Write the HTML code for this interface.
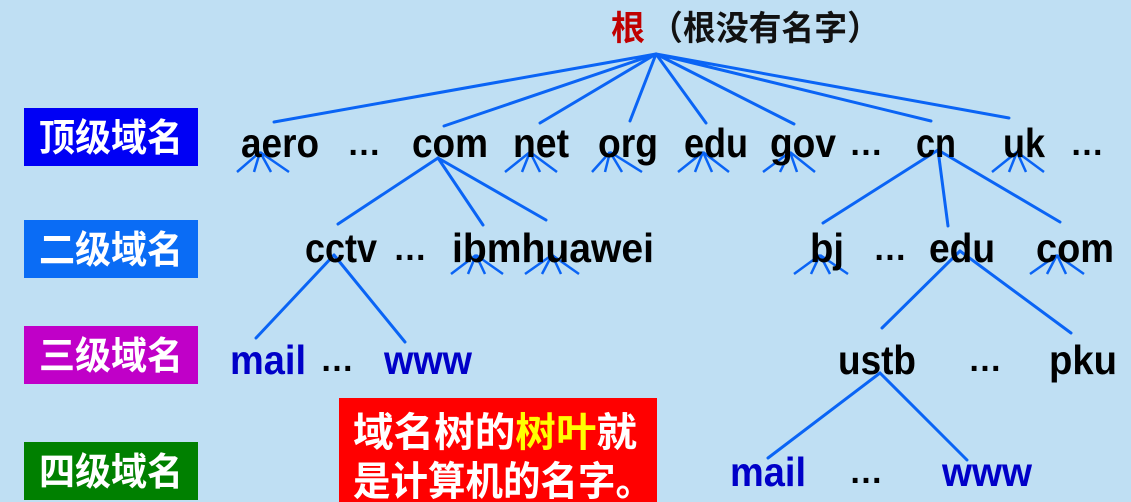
<!DOCTYPE html>
<html><head><meta charset="utf-8"><style>
html,body{margin:0;padding:0;background:#bfdff3;}
svg{display:block}
</style></head><body>
<svg width="1131" height="502" viewBox="0 0 1131 502" xmlns="http://www.w3.org/2000/svg">
<rect width="1131" height="502" fill="#bfdff3"/>
<g stroke="#0a64f5" stroke-width="3" fill="none" stroke-linecap="round">
<path d="M656 54L274 122M656 54L444 126M656 54L540 123M656 54L630 121M656 54L706 123M656 54L794 124M656 54L931 121M656 54L1009 118"/>
<path d="M438 158L338 224M438 158L483 225M438 158L546 220"/>
<path d="M938 150L823 223M938 150L948 226M938 150L1060 222"/>
<path d="M334 255L256 338M334 255L405 342"/>
<path d="M960 251L882 328M960 251L1071 333"/>
<path d="M880 373L768 458M880 373L967 460"/>
</g>
<g stroke="#0a64f5" stroke-width="2.5" fill="none">
<path d="M260 152L237 172M260 152L254 172M260 152L271 172M260 152L289 172"/>
<path d="M530 152L505 172M530 152L522 172M530 152L540 172M530 152L557 172"/>
<path d="M610 152L592 172M610 152L605 172M610 152L622 172M610 152L642 172"/>
<path d="M703 152L678 172M703 152L695 172M703 152L712 172M703 152L729 172"/>
<path d="M790 152L763 172M790 152L780 172M790 152L797 172M790 152L815 172"/>
<path d="M1017 152L992 172M1017 152L1009 172M1017 152L1026 172M1017 152L1044 172"/>
<path d="M476 255L451 274M476 255L468 274M476 255L485 274M476 255L503 274"/>
<path d="M552 255L525 274M552 255L542 274M552 255L561 274M552 255L579 274"/>
<path d="M820 255L794 274M820 255L811 274M820 255L830 274M820 255L848 274"/>
<path d="M1057 255L1030 274M1057 255L1047 274M1057 255L1066 274M1057 255L1084 274"/>
</g>
<g font-family="Liberation Sans, Noto Sans CJK SC, sans-serif" font-weight="bold" font-size="41" text-anchor="middle" fill="#000">
<text x="280" y="157" textLength="78" lengthAdjust="spacingAndGlyphs">aero</text>
<text x="364" y="155" font-size="34">…</text>
<text x="450" y="157" textLength="76" lengthAdjust="spacingAndGlyphs">com</text>
<text x="541" y="157" textLength="56" lengthAdjust="spacingAndGlyphs">net</text>
<text x="628" y="157" textLength="60" lengthAdjust="spacingAndGlyphs">org</text>
<text x="716" y="157" textLength="64" lengthAdjust="spacingAndGlyphs">edu</text>
<text x="803" y="157" textLength="66" lengthAdjust="spacingAndGlyphs">gov</text>
<text x="866" y="155" font-size="34">…</text>
<text x="936" y="157" textLength="40" lengthAdjust="spacingAndGlyphs">cn</text>
<text x="1024" y="157" textLength="42" lengthAdjust="spacingAndGlyphs">uk</text>
<text x="1087" y="155" font-size="34">…</text>

<text x="341" y="262" textLength="72" lengthAdjust="spacingAndGlyphs">cctv</text>
<text x="410" y="260" font-size="34">…</text>
<text x="553" y="262" textLength="202" lengthAdjust="spacingAndGlyphs">ibmhuawei</text>
<text x="827" y="262" textLength="34" lengthAdjust="spacingAndGlyphs">bj</text>
<text x="890" y="260" font-size="34">…</text>
<text x="962" y="262" textLength="66" lengthAdjust="spacingAndGlyphs">edu</text>
<text x="1075" y="262" textLength="78" lengthAdjust="spacingAndGlyphs">com</text>

<text x="268" y="374" fill="#0000c8" textLength="76" lengthAdjust="spacingAndGlyphs">mail</text>
<text x="337" y="371" font-size="34">…</text>
<text x="428" y="374" fill="#0000c8" textLength="88" lengthAdjust="spacingAndGlyphs">www</text>
<text x="877" y="374" textLength="78" lengthAdjust="spacingAndGlyphs">ustb</text>
<text x="985" y="371" font-size="34">…</text>
<text x="1083" y="374" textLength="68" lengthAdjust="spacingAndGlyphs">pku</text>

<text x="768" y="486" fill="#0000c8" textLength="76" lengthAdjust="spacingAndGlyphs">mail</text>
<text x="866" y="483" font-size="34">…</text>
<text x="987" y="486" fill="#0000c8" textLength="90" lengthAdjust="spacingAndGlyphs">www</text>
</g>
<g font-family="Liberation Sans, Noto Sans CJK SC, sans-serif" font-weight="bold" font-size="34">
<text x="611" y="40" fill="#c00000">根</text>
<text x="650" y="40" fill="#111" textLength="230" lengthAdjust="spacingAndGlyphs">（根没有名字）</text>
</g>
<rect x="24" y="108" width="174" height="58" fill="#0000f5"/>
<rect x="24" y="220" width="174" height="58" fill="#0a6cf5"/>
<rect x="24" y="326" width="174" height="58" fill="#c000c8"/>
<rect x="24" y="442" width="174" height="58" fill="#008000"/>
<g font-family="Liberation Sans, Noto Sans CJK SC, sans-serif" font-weight="bold" font-size="38" fill="#fff" text-anchor="middle">
<text x="111" y="151" textLength="144" lengthAdjust="spacingAndGlyphs">顶级域名</text>
<text x="111" y="263" textLength="144" lengthAdjust="spacingAndGlyphs">二级域名</text>
<text x="111" y="369" textLength="144" lengthAdjust="spacingAndGlyphs">三级域名</text>
<text x="111" y="485" textLength="144" lengthAdjust="spacingAndGlyphs">四级域名</text>
</g>
<rect x="339" y="398" width="318" height="104" fill="#ff0000"/>
<g font-family="Liberation Sans, Noto Sans CJK SC, sans-serif" font-weight="bold" font-size="40" fill="#fff">
<text x="353" y="446" textLength="284" lengthAdjust="spacingAndGlyphs">域名树的<tspan fill="#ffff00">树叶</tspan>就</text>
<text x="353" y="495" textLength="300" lengthAdjust="spacingAndGlyphs">是计算机的名字。</text>
</g>
</svg>
</body></html>
